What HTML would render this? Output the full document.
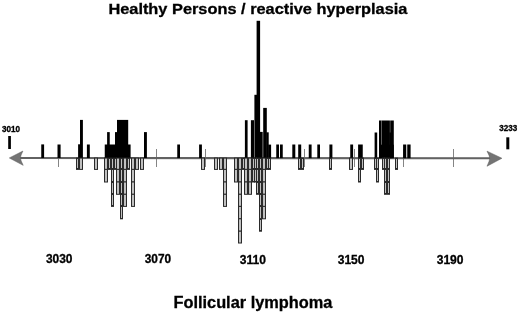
<!DOCTYPE html>
<html><head><meta charset="utf-8"><title>Healthy Persons / reactive hyperplasia vs Follicular lymphoma</title>
<style>
html,body{margin:0;padding:0;background:#fff;}
body{width:520px;height:313px;overflow:hidden;position:relative;}
svg{position:absolute;left:0;top:0;}
text{font-family:"Liberation Sans",Arial,sans-serif;font-weight:bold;fill:#000;stroke:#000;stroke-width:0.3px;}
</style></head><body>
<svg width="520" height="313" viewBox="0 0 520 313">
<text x="108.4" y="14.0" font-size="15.3" textLength="299" lengthAdjust="spacingAndGlyphs">Healthy Persons / reactive hyperplasia</text>
<text x="173.5" y="307.5" font-size="15.6" textLength="158.8" lengthAdjust="spacingAndGlyphs">Follicular lymphoma</text>
<text x="2.0" y="131.9" font-size="8.2" textLength="18.1" lengthAdjust="spacingAndGlyphs">3010</text>
<text x="499.3" y="131.2" font-size="8.2" textLength="18" lengthAdjust="spacingAndGlyphs">3233</text>
<text x="45.9" y="263.3" font-size="12.2" textLength="26.6" lengthAdjust="spacingAndGlyphs">3030</text>
<text x="144.7" y="263.4" font-size="12.2" textLength="26.4" lengthAdjust="spacingAndGlyphs">3070</text>
<text x="239.7" y="263.5" font-size="12.2" textLength="26.2" lengthAdjust="spacingAndGlyphs">3110</text>
<text x="337.7" y="263.5" font-size="12.2" textLength="26.8" lengthAdjust="spacingAndGlyphs">3150</text>
<text x="436.7" y="263.5" font-size="12.2" textLength="26.8" lengthAdjust="spacingAndGlyphs">3190</text>
<g fill="#000">
<line x1="58.5" y1="149" x2="58.5" y2="167" stroke="#858585" stroke-width="1"/>
<line x1="156.5" y1="149" x2="156.5" y2="167" stroke="#858585" stroke-width="1"/>
<line x1="205.5" y1="149" x2="205.5" y2="167" stroke="#858585" stroke-width="1"/>
<line x1="304.5" y1="149" x2="304.5" y2="167" stroke="#858585" stroke-width="1"/>
<line x1="354.5" y1="149" x2="354.5" y2="167" stroke="#858585" stroke-width="1"/>
<line x1="403.5" y1="149" x2="403.5" y2="167" stroke="#858585" stroke-width="1"/>
<line x1="453.5" y1="149" x2="453.5" y2="167" stroke="#858585" stroke-width="1"/>
<line x1="18" y1="157.96" x2="492" y2="158.24" stroke="#626262" stroke-width="2.1"/>
<path d="M9.3 157.95 L22.9 151.05 Q20.6 155.45 20.4 157.95 Q20.6 160.45 23.2 165.35 Z" fill="#747474" stroke="#5a5a5a" stroke-width="0.5" stroke-linejoin="round"/>
<path d="M501.9 158.25 L487.0 151.15 Q489.6 155.75 489.8 158.25 Q489.6 160.75 487.0 166.25 Z" fill="#747474" stroke="#5a5a5a" stroke-width="0.5" stroke-linejoin="round"/>
<rect x="41.25" y="144.4" width="2.85" height="13.57"/>
<rect x="57.5" y="144.5" width="3.1" height="13.48"/>
<rect x="78.1" y="144.3" width="2.5" height="13.69"/>
<rect x="80" y="119.9" width="2.9" height="38.09"/>
<rect x="86.9" y="144.5" width="2.9" height="13.5"/>
<rect x="104.75" y="144.5" width="25.85" height="13.52"/>
<rect x="107.1" y="132.1" width="2.65" height="25.91"/>
<rect x="115" y="132.1" width="2.8" height="25.92"/>
<rect x="117" y="119.9" width="11.2" height="38.12"/>
<rect x="144" y="132.1" width="2.9" height="25.93"/>
<rect x="177.25" y="144.5" width="2.75" height="13.55"/>
<rect x="199.1" y="144.5" width="2.8" height="13.57"/>
<rect x="244.9" y="120.2" width="2.7" height="37.89"/>
<rect x="250.9" y="120.2" width="3.1" height="37.9"/>
<rect x="254.4" y="94.8" width="2.8" height="63.3"/>
<rect x="256.6" y="20.8" width="3.5" height="137.3"/>
<rect x="259.6" y="131.9" width="3.1" height="26.2"/>
<rect x="263.2" y="107.9" width="3.6" height="50.21"/>
<rect x="266.3" y="132.3" width="2.4" height="25.81"/>
<rect x="268.2" y="144.6" width="2.9" height="13.51"/>
<rect x="276.25" y="144.5" width="2.75" height="13.61"/>
<rect x="280" y="144.5" width="2.75" height="13.62"/>
<rect x="292.3" y="144.5" width="3" height="13.62"/>
<rect x="298.2" y="144.5" width="3" height="13.63"/>
<rect x="308.75" y="144.5" width="2.85" height="13.63"/>
<rect x="317.3" y="144.5" width="2.7" height="13.64"/>
<rect x="329.4" y="144.5" width="3" height="13.65"/>
<rect x="350.25" y="144.5" width="2.85" height="13.66"/>
<rect x="358.1" y="144.5" width="4.65" height="13.66"/>
<rect x="374.6" y="132.5" width="2.6" height="25.67"/>
<rect x="379" y="144.7" width="14.8" height="13.48"/>
<rect x="379" y="120.5" width="2.4" height="37.68"/>
<rect x="381.6" y="120.5" width="8.3" height="37.68"/>
<rect x="390.2" y="120.5" width="3.6" height="37.68"/>
<rect x="389.3" y="132.5" width="2.1" height="25.68"/>
<rect x="403.1" y="144.5" width="3.15" height="13.69"/>
<rect x="407.25" y="144.5" width="3.35" height="13.69"/>
<rect x="8.2" y="136" width="2.7" height="13"/>
<rect x="506.3" y="137.3" width="3" height="12"/>
<rect x="76.5" y="158.1" width="2" height="11.3" fill="#c0c0c0" stroke="#2a2a2a" stroke-width="1"/>
<rect x="79.5" y="158.1" width="3" height="11.3" fill="#c0c0c0" stroke="#2a2a2a" stroke-width="1"/>
<rect x="94.5" y="158.1" width="3" height="11.3" fill="#c0c0c0" stroke="#2a2a2a" stroke-width="1"/>
<rect x="104.5" y="158.1" width="3" height="11.3" fill="#c0c0c0" stroke="#2a2a2a" stroke-width="1"/>
<rect x="104.5" y="169.4" width="3" height="12.6" fill="#c0c0c0" stroke="#2a2a2a" stroke-width="1"/>
<rect x="108.5" y="158.1" width="2" height="11.3" fill="#c0c0c0" stroke="#2a2a2a" stroke-width="1"/>
<rect x="111.5" y="158.1" width="2" height="11.3" fill="#c0c0c0" stroke="#2a2a2a" stroke-width="1"/>
<rect x="111.5" y="169.4" width="2" height="12.6" fill="#c0c0c0" stroke="#2a2a2a" stroke-width="1"/>
<rect x="111.5" y="182" width="2" height="12.3" fill="#c0c0c0" stroke="#2a2a2a" stroke-width="1"/>
<rect x="111.5" y="194.3" width="2" height="12.1" fill="#c0c0c0" stroke="#2a2a2a" stroke-width="1"/>
<rect x="114.5" y="158.1" width="2" height="11.3" fill="#c0c0c0" stroke="#2a2a2a" stroke-width="1"/>
<rect x="116.5" y="158.1" width="3" height="11.3" fill="#c0c0c0" stroke="#2a2a2a" stroke-width="1"/>
<rect x="116.5" y="169.4" width="3" height="12.6" fill="#c0c0c0" stroke="#2a2a2a" stroke-width="1"/>
<rect x="116.5" y="182" width="3" height="12.3" fill="#c0c0c0" stroke="#2a2a2a" stroke-width="1"/>
<rect x="120.5" y="158.1" width="2" height="11.3" fill="#c0c0c0" stroke="#2a2a2a" stroke-width="1"/>
<rect x="120.5" y="169.4" width="2" height="12.6" fill="#c0c0c0" stroke="#2a2a2a" stroke-width="1"/>
<rect x="120.5" y="182" width="2" height="12.3" fill="#c0c0c0" stroke="#2a2a2a" stroke-width="1"/>
<rect x="120.5" y="194.3" width="2" height="12.1" fill="#c0c0c0" stroke="#2a2a2a" stroke-width="1"/>
<rect x="120.5" y="206.4" width="2" height="12.4" fill="#c0c0c0" stroke="#2a2a2a" stroke-width="1"/>
<rect x="123.5" y="158.1" width="3" height="11.3" fill="#c0c0c0" stroke="#2a2a2a" stroke-width="1"/>
<rect x="123.5" y="169.4" width="3" height="12.6" fill="#c0c0c0" stroke="#2a2a2a" stroke-width="1"/>
<rect x="123.5" y="182" width="3" height="12.3" fill="#c0c0c0" stroke="#2a2a2a" stroke-width="1"/>
<rect x="123.5" y="194.3" width="3" height="12.1" fill="#c0c0c0" stroke="#2a2a2a" stroke-width="1"/>
<rect x="127.5" y="158.1" width="2" height="11.3" fill="#c0c0c0" stroke="#2a2a2a" stroke-width="1"/>
<rect x="131.5" y="158.1" width="3" height="11.3" fill="#c0c0c0" stroke="#2a2a2a" stroke-width="1"/>
<rect x="131.5" y="169.4" width="3" height="12.6" fill="#c0c0c0" stroke="#2a2a2a" stroke-width="1"/>
<rect x="131.5" y="182" width="3" height="12.3" fill="#c0c0c0" stroke="#2a2a2a" stroke-width="1"/>
<rect x="131.5" y="194.3" width="3" height="12.1" fill="#c0c0c0" stroke="#2a2a2a" stroke-width="1"/>
<rect x="135.5" y="158.1" width="3" height="11.3" fill="#c0c0c0" stroke="#2a2a2a" stroke-width="1"/>
<rect x="140.5" y="158.1" width="3" height="11.3" fill="#c0c0c0" stroke="#2a2a2a" stroke-width="1"/>
<rect x="201.5" y="158.1" width="3" height="11.3" fill="#c0c0c0" stroke="#2a2a2a" stroke-width="1"/>
<rect x="214.5" y="158.1" width="3" height="11.3" fill="#c0c0c0" stroke="#2a2a2a" stroke-width="1"/>
<rect x="219.5" y="158.1" width="3" height="11.3" fill="#c0c0c0" stroke="#2a2a2a" stroke-width="1"/>
<rect x="223.5" y="158.1" width="3" height="11.3" fill="#c0c0c0" stroke="#2a2a2a" stroke-width="1"/>
<rect x="223.5" y="169.4" width="3" height="12.6" fill="#c0c0c0" stroke="#2a2a2a" stroke-width="1"/>
<rect x="223.5" y="182" width="3" height="12.3" fill="#c0c0c0" stroke="#2a2a2a" stroke-width="1"/>
<rect x="223.5" y="194.3" width="3" height="12.1" fill="#c0c0c0" stroke="#2a2a2a" stroke-width="1"/>
<rect x="234.5" y="158.1" width="3" height="11.3" fill="#c0c0c0" stroke="#2a2a2a" stroke-width="1"/>
<rect x="234.5" y="169.4" width="3" height="12.6" fill="#c0c0c0" stroke="#2a2a2a" stroke-width="1"/>
<rect x="238.5" y="158.1" width="3" height="11.3" fill="#c0c0c0" stroke="#2a2a2a" stroke-width="1"/>
<rect x="238.5" y="169.4" width="3" height="12.6" fill="#c0c0c0" stroke="#2a2a2a" stroke-width="1"/>
<rect x="238.5" y="182" width="3" height="12.3" fill="#c0c0c0" stroke="#2a2a2a" stroke-width="1"/>
<rect x="238.5" y="194.3" width="3" height="12.1" fill="#c0c0c0" stroke="#2a2a2a" stroke-width="1"/>
<rect x="238.5" y="206.4" width="3" height="12.4" fill="#c0c0c0" stroke="#2a2a2a" stroke-width="1"/>
<rect x="238.5" y="218.8" width="3" height="12.4" fill="#c0c0c0" stroke="#2a2a2a" stroke-width="1"/>
<rect x="238.5" y="231.2" width="3" height="11.8" fill="#c0c0c0" stroke="#2a2a2a" stroke-width="1"/>
<rect x="242.5" y="158.1" width="2" height="11.3" fill="#c0c0c0" stroke="#2a2a2a" stroke-width="1"/>
<rect x="244.5" y="158.1" width="3" height="11.3" fill="#c0c0c0" stroke="#2a2a2a" stroke-width="1"/>
<rect x="244.5" y="169.4" width="3" height="12.6" fill="#c0c0c0" stroke="#2a2a2a" stroke-width="1"/>
<rect x="244.5" y="182" width="3" height="12.3" fill="#c0c0c0" stroke="#2a2a2a" stroke-width="1"/>
<rect x="248.5" y="158.1" width="3" height="11.3" fill="#c0c0c0" stroke="#2a2a2a" stroke-width="1"/>
<rect x="248.5" y="169.4" width="3" height="12.6" fill="#c0c0c0" stroke="#2a2a2a" stroke-width="1"/>
<rect x="248.5" y="182" width="3" height="12.3" fill="#c0c0c0" stroke="#2a2a2a" stroke-width="1"/>
<rect x="252.5" y="158.1" width="2" height="11.3" fill="#c0c0c0" stroke="#2a2a2a" stroke-width="1"/>
<rect x="252.5" y="169.4" width="2" height="12.6" fill="#c0c0c0" stroke="#2a2a2a" stroke-width="1"/>
<rect x="254.5" y="158.1" width="2" height="11.3" fill="#c0c0c0" stroke="#2a2a2a" stroke-width="1"/>
<rect x="254.5" y="169.4" width="2" height="12.6" fill="#c0c0c0" stroke="#2a2a2a" stroke-width="1"/>
<rect x="256.5" y="158.1" width="2" height="11.3" fill="#c0c0c0" stroke="#2a2a2a" stroke-width="1"/>
<rect x="256.5" y="169.4" width="2" height="12.6" fill="#c0c0c0" stroke="#2a2a2a" stroke-width="1"/>
<rect x="256.5" y="182" width="2" height="12.3" fill="#c0c0c0" stroke="#2a2a2a" stroke-width="1"/>
<rect x="259.5" y="158.1" width="2" height="11.3" fill="#c0c0c0" stroke="#2a2a2a" stroke-width="1"/>
<rect x="259.5" y="169.4" width="2" height="12.6" fill="#c0c0c0" stroke="#2a2a2a" stroke-width="1"/>
<rect x="259.5" y="182" width="2" height="12.3" fill="#c0c0c0" stroke="#2a2a2a" stroke-width="1"/>
<rect x="259.5" y="194.3" width="2" height="12.1" fill="#c0c0c0" stroke="#2a2a2a" stroke-width="1"/>
<rect x="259.5" y="206.4" width="2" height="12.4" fill="#c0c0c0" stroke="#2a2a2a" stroke-width="1"/>
<rect x="259.5" y="218.8" width="2" height="12.4" fill="#c0c0c0" stroke="#2a2a2a" stroke-width="1"/>
<rect x="262.5" y="158.1" width="3" height="11.3" fill="#c0c0c0" stroke="#2a2a2a" stroke-width="1"/>
<rect x="262.5" y="169.4" width="3" height="12.6" fill="#c0c0c0" stroke="#2a2a2a" stroke-width="1"/>
<rect x="262.5" y="182" width="3" height="12.3" fill="#c0c0c0" stroke="#2a2a2a" stroke-width="1"/>
<rect x="262.5" y="194.3" width="3" height="12.1" fill="#c0c0c0" stroke="#2a2a2a" stroke-width="1"/>
<rect x="262.5" y="206.4" width="3" height="12.4" fill="#c0c0c0" stroke="#2a2a2a" stroke-width="1"/>
<rect x="266.5" y="158.1" width="2" height="11.3" fill="#c0c0c0" stroke="#2a2a2a" stroke-width="1"/>
<rect x="268.5" y="158.1" width="2" height="11.3" fill="#c0c0c0" stroke="#2a2a2a" stroke-width="1"/>
<rect x="298.5" y="158.1" width="2" height="11.3" fill="#c0c0c0" stroke="#2a2a2a" stroke-width="1"/>
<rect x="301.5" y="158.1" width="2" height="11.3" fill="#c0c0c0" stroke="#2a2a2a" stroke-width="1"/>
<rect x="329.5" y="158.1" width="2" height="11.3" fill="#c0c0c0" stroke="#2a2a2a" stroke-width="1"/>
<rect x="349.5" y="158.1" width="3" height="11.3" fill="#c0c0c0" stroke="#2a2a2a" stroke-width="1"/>
<rect x="358.5" y="158.1" width="2" height="11.3" fill="#c0c0c0" stroke="#2a2a2a" stroke-width="1"/>
<rect x="358.5" y="169.4" width="2" height="12.6" fill="#c0c0c0" stroke="#2a2a2a" stroke-width="1"/>
<rect x="361.5" y="158.1" width="2" height="11.3" fill="#c0c0c0" stroke="#2a2a2a" stroke-width="1"/>
<rect x="374.5" y="158.1" width="2" height="11.3" fill="#c0c0c0" stroke="#2a2a2a" stroke-width="1"/>
<rect x="376.5" y="158.1" width="2" height="11.3" fill="#c0c0c0" stroke="#2a2a2a" stroke-width="1"/>
<rect x="376.5" y="169.4" width="2" height="12.6" fill="#c0c0c0" stroke="#2a2a2a" stroke-width="1"/>
<rect x="382.5" y="158.1" width="2" height="11.3" fill="#c0c0c0" stroke="#2a2a2a" stroke-width="1"/>
<rect x="384.5" y="158.1" width="2" height="11.3" fill="#c0c0c0" stroke="#2a2a2a" stroke-width="1"/>
<rect x="384.5" y="169.4" width="2" height="12.6" fill="#c0c0c0" stroke="#2a2a2a" stroke-width="1"/>
<rect x="384.5" y="182" width="2" height="12.3" fill="#c0c0c0" stroke="#2a2a2a" stroke-width="1"/>
<rect x="387.5" y="158.1" width="2" height="11.3" fill="#c0c0c0" stroke="#2a2a2a" stroke-width="1"/>
<rect x="387.5" y="169.4" width="2" height="12.6" fill="#c0c0c0" stroke="#2a2a2a" stroke-width="1"/>
<rect x="387.5" y="182" width="2" height="12.3" fill="#c0c0c0" stroke="#2a2a2a" stroke-width="1"/>
<rect x="395.5" y="158.1" width="2" height="11.3" fill="#c0c0c0" stroke="#2a2a2a" stroke-width="1"/>
</g>
</svg>
</body></html>
